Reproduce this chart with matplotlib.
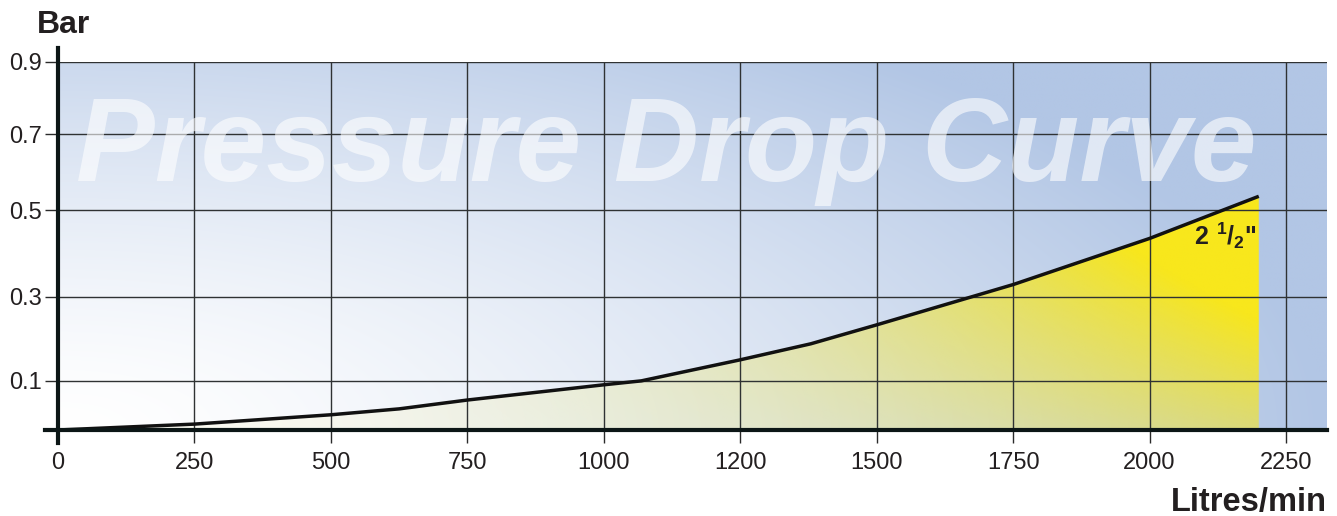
import numpy as np
import matplotlib
matplotlib.use("Agg")
import matplotlib.pyplot as plt
from matplotlib.colors import to_rgb

plt.rcParams['font.family'] = ['Liberation Sans', 'DejaVu Sans']
plt.rcParams['mathtext.fontset'] = 'custom'
plt.rcParams['mathtext.rm'] = 'Liberation Sans'
plt.rcParams['mathtext.bf'] = 'Liberation Sans:bold'

# data
flow_ticks = [0, 250, 500, 750, 1000, 1200, 1500, 1750, 2000, 2250]
bar_ticks = [0.1, 0.3, 0.5, 0.7, 0.9]
flow = [0, 250, 500, 625, 750, 1000, 1055, 1200, 1355, 1500, 1750, 2000, 2200]
pressure = [0, 0.012, 0.031, 0.043, 0.061, 0.092, 0.100, 0.150, 0.188, 0.233,
            0.328, 0.435, 0.537]
size_label = r'$\mathbf{2\ {}^{1}/{}_{2}}$"'

# the chart's axes are not linear: equal gaps between uneven tick values
xs_map = np.array(flow_ticks + [2500], float)
xs_pos = np.arange(len(xs_map), dtype=float)
ys_map = np.array([0] + bar_ticks + [1.1])
ys_pos = np.array([0, 49, 133, 219, 295, 367, 439], float)


def piecewise(a, b):
    def f(v):
        v = np.asarray(v, float)
        out = np.interp(v, a, b)
        lo = b[0] + (v - a[0]) * (b[1] - b[0]) / (a[1] - a[0])
        hi = b[-1] + (v - a[-1]) * (b[-1] - b[-2]) / (a[-1] - a[-2])
        return np.where(v < a[0], lo, np.where(v > a[-1], hi, out))
    return f


fig = plt.figure(figsize=(13.37, 5.16), dpi=100)
ax = fig.add_axes([58 / 1337, 86 / 516, 1269 / 1337, 368 / 516])
ax.set_xscale('function', functions=(piecewise(xs_map, xs_pos), piecewise(xs_pos, xs_map)))
ax.set_yscale('function', functions=(piecewise(ys_map, ys_pos), piecewise(ys_pos, ys_map)))
ax.set_xlim(0, 2325)
ax.set_ylim(0, 0.9)

# background gradient: white bottom-left to blue
n = 300
gx, gy = np.meshgrid(np.linspace(0, 1, n), np.linspace(0, 1, n))
t = np.clip(np.sqrt(gx ** 2 + (0.75 * gy) ** 2), 0, 1) ** 1.4
blue = np.array(to_rgb('#b2c6e5'))
bg = 1 - t[..., None] * (1 - blue)
ax.imshow(bg, extent=[0, 1, 0, 1], transform=ax.transAxes, origin='lower',
          aspect='auto', zorder=0, interpolation='bilinear')

# yellow fill under the curve
fill = ax.fill_between(flow, pressure, 0, color='none', lw=0, zorder=1)
yellow = np.zeros((n, n, 4))
yellow[..., :3] = to_rgb('#f8e71c')
yellow[..., 3] = np.clip(gx ** 2.4 * (0.6 + 1.8 * gy), 0, 1) * 0.95 + 0.05
im = ax.imshow(yellow, extent=[0, 1, 0, 1], transform=ax.transAxes, origin='lower',
               aspect='auto', zorder=1, interpolation='bilinear')
im.set_clip_path(fill.get_paths()[0], transform=ax.transData)

ax.set_xticks(flow_ticks)
ax.set_xticklabels([str(v) for v in flow_ticks])
ax.set_yticks(bar_ticks)
ax.set_yticklabels([f'{v:.1f}' for v in bar_ticks])
ax.xaxis.set_minor_locator(plt.NullLocator())
ax.yaxis.set_minor_locator(plt.NullLocator())
ax.tick_params(axis='both', length=9.5, width=1, color='#2a2a2a',
               labelsize=17, labelcolor='#231f20')
ax.tick_params(axis='x', pad=6)
ax.tick_params(axis='y', pad=2)
ax.set_axisbelow(False)
ax.grid(True, color='#2f3233', lw=1)
for s in ax.spines.values():
    s.set_visible(False)

ax.text(0.479, 0.677, 'Pressure Drop Curve', transform=ax.transAxes,
        ha='center', va='baseline', fontsize=85, fontweight='bold',
        style='italic', color='white', alpha=0.6, zorder=3, clip_on=True)

ax.plot(flow, pressure, color='#111111', lw=2.5, zorder=4, solid_capstyle='butt')

# axis lines reaching past the plot area
ax.plot([-0.01, 1], [0, 0], transform=ax.transAxes, color='#0c1616', lw=3,
        clip_on=False, zorder=5)
ax.plot([0, 0], [-0.035, 1.038], transform=ax.transAxes, color='#0c1616', lw=3,
        clip_on=False, zorder=5)

ax.text(2195, 0.421, size_label, ha='right', va='baseline', fontsize=18,
        fontweight='bold', color='#231f20', zorder=6)

fig.text(37 / 1337, 1 - 33 / 516, 'Bar', fontsize=23, fontweight='bold',
         color='#231f20', ha='left', va='baseline')
fig.text(1327 / 1337, 1 - 511 / 516, 'Litres/min', fontsize=23.5, fontweight='bold',
         color='#231f20', ha='right', va='baseline')

fig.savefig('out.png', dpi=100)
